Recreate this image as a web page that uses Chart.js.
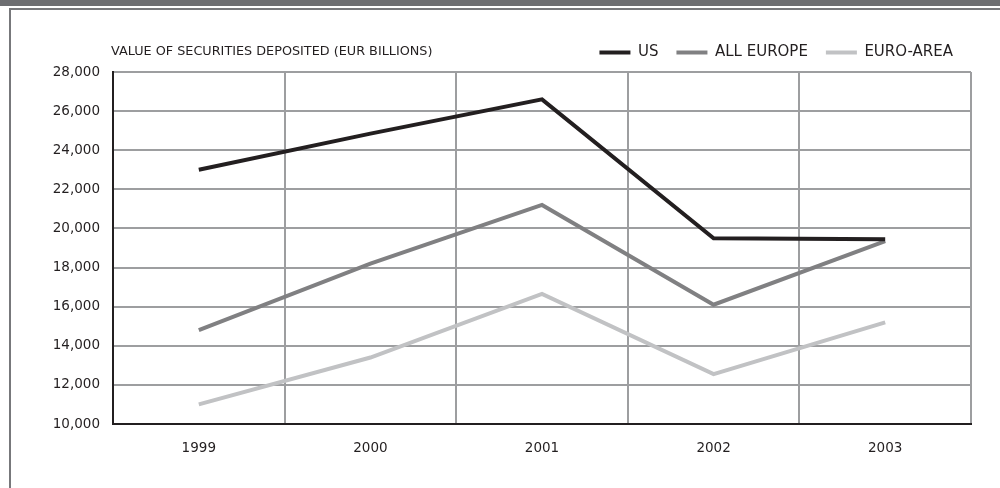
<!DOCTYPE html>
<html>
<head>
<meta charset="utf-8">
<script src="https://cdn.jsdelivr.net/npm/chart.js@4.4.0/dist/chart.umd.min.js"></script>
<style>
  body { margin: 0; background: #fff; }
  #wrap { position: relative; width: 1000px; height: 488px; overflow: hidden; }
  .band { position: absolute; left: 0; top: 0; width: 1000px; height: 6px; background: #6d6e71; }
  .rule { position: absolute; left: 10px; top: 8px; width: 990px; height: 2px; background: #77787b; }
  .side { position: absolute; left: 9px; top: 8px; width: 2px; height: 480px; background: #77787b; }
  canvas { position: absolute; left: 0; top: 0; }
</style>
</head>
<body>
<div id="wrap">
  <div class="band"></div>
  <div class="rule"></div>
  <div class="side"></div>
  <canvas id="myChart" width="1000" height="488"></canvas>
</div>
<script>
const years = ['1999', '2000', '2001', '2002', '2003'];
const usValues = [23000, 24850, 26600, 19500, 19450];
const allEuropeValues = [14800, 18200, 21200, 16100, 19350];
const euroAreaValues = [11000, 13400, 16650, 12550, 15200];
const yTicks = { min: 10000, max: 28000, step: 2000 };
const unitTitle = 'VALUE OF SECURITIES DEPOSITED (EUR BILLIONS)';

const font = '"DejaVu Sans", Arial, sans-serif';
const ink = '#231f20';

// unit label drawn top-left, same line as the legend
const titlePlugin = {
    id: 'unitTitle',
    afterDraw(chart) {
        const c = chart.ctx;
        c.save();
        c.font = '12.8px ' + font;
        c.fillStyle = ink;
        c.textBaseline = 'middle';
        c.textAlign = 'left';
        c.fillText(unitTitle, 111, 52);
        c.restore();
    }
};

// fix legend height so the plot top lands where it should
const legendHeight = {
    id: 'legendHeight',
    beforeInit(chart) {
        const fit = chart.legend.fit;
        chart.legend.fit = function () {
            fit.bind(chart.legend)();
            this.height = 45;
        };
    }
};

const ctx = document.getElementById('myChart').getContext('2d');
const myChart = new Chart(ctx, {
    type: 'line',
    data: {
        labels: years,
        datasets: [{
            label: 'US',
            data: usValues,
            borderColor: ink,
            backgroundColor: ink,
            borderWidth: 4
        }, {
            label: 'ALL EUROPE',
            data: allEuropeValues,
            borderColor: '#808082',
            backgroundColor: '#808082',
            borderWidth: 4
        }, {
            label: 'EURO-AREA',
            data: euroAreaValues,
            borderColor: '#c1c2c4',
            backgroundColor: '#c1c2c4',
            borderWidth: 4
        }]
    },
    options: {
        responsive: false,
        animation: false,
        elements: { point: { radius: 0 }, line: { tension: 0, borderJoinStyle: 'miter' } },
        layout: { padding: { left: 0, right: 29, top: 27, bottom: 0 } },
        plugins: {
            title: { display: false },
            tooltip: { enabled: false },
            legend: {
                position: 'top',
                align: 'end',
                labels: {
                    boxWidth: 31,
                    boxHeight: 4,
                    padding: 18,
                    color: ink,
                    font: { family: font, size: 15 },
                    generateLabels(chart) {
                        const items = Chart.defaults.plugins.legend.labels.generateLabels(chart);
                        items.forEach(it => { it.lineWidth = 0; });
                        return items;
                    }
                }
            }
        },
        scales: {
            x: {
                offset: true,
                grid: { offset: true, color: '#9d9ea0', lineWidth: 2, drawTicks: false },
                border: { color: ink, width: 2 },
                ticks: { color: ink, padding: 16, font: { family: font, size: 13.5 } },
                afterFit(scale) { scale.height = 64; }
            },
            y: {
                min: yTicks.min,
                max: yTicks.max,
                grid: { color: '#9d9ea0', lineWidth: 2, drawTicks: false },
                border: { color: ink, width: 2 },
                ticks: {
                    stepSize: yTicks.step,
                    color: ink,
                    padding: 13,
                    font: { family: font, size: 13.5 },
                    callback: v => v.toLocaleString('en-US')
                },
                afterFit(scale) { scale.width = 113; }
            }
        }
    },
    plugins: [titlePlugin, legendHeight]
});
</script>
</body>
</html>
